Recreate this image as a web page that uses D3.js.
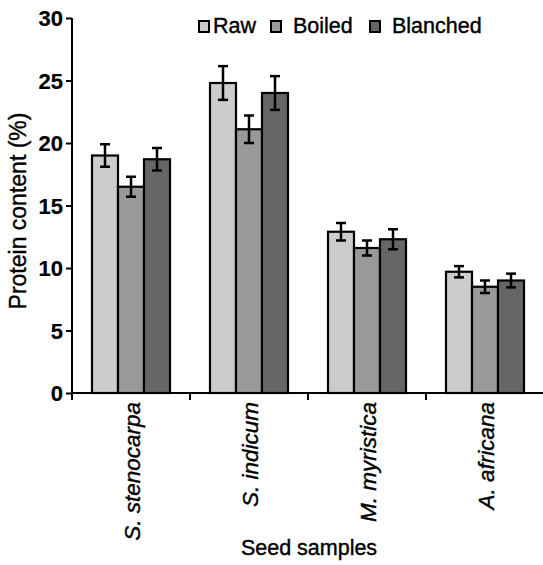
<!DOCTYPE html>
<html><head><meta charset="utf-8">
<script src="https://cdn.jsdelivr.net/npm/d3@7"></script>
<style>
body{margin:0;background:#fff;}
text{font-family:"Liberation Sans",Arial,sans-serif;fill:#000;stroke:#000;stroke-width:0.4px;}
</style></head>
<body>
<svg id="chart" width="543" height="565"></svg>
<script>
const categories = ["S. stenocarpa", "S. indicum", "M. myristica", "A. africana"];
const seriesNames = ["Raw", "Boiled", "Blanched"];
const seriesColors = ["#cccccc", "#999999", "#666666"];
const rawValues = [19.0, 24.8, 12.9, 9.7];
const boiledValues = [16.5, 21.1, 11.6, 8.5];
const blanchedValues = [18.7, 24.0, 12.3, 9.0];
const rawErrors = [0.9, 1.35, 0.7, 0.45];
const boiledErrors = [0.8, 1.1, 0.6, 0.5];
const blanchedErrors = [0.9, 1.35, 0.8, 0.55];
const yTicks = [0, 5, 10, 15, 20, 25, 30];

const values = [rawValues, boiledValues, blanchedValues];
const errors = [rawErrors, boiledErrors, blanchedErrors];

const svg = d3.select("#chart");
const mLeft = 72, mRight = 544, mTop = 18, mBottom = 393;

const y = d3.scaleLinear().domain([0, 30]).range([mBottom, mTop]);
const x = d3.scaleBand().domain(categories).range([mLeft, mRight]);
const groupW = 78;
const xs = d3.scaleBand().domain(seriesNames).range([0, groupW]);

const data = [];
categories.forEach((c, i) => seriesNames.forEach((s, j) => {
  data.push({c, s, j, v: values[j][i], e: errors[j][i]});
}));

const g = svg.append("g");
g.selectAll("rect.bar").data(data).enter().append("rect")
  .attr("x", d => x(d.c) + (x.bandwidth() - groupW) / 2 + xs(d.s))
  .attr("y", d => y(d.v))
  .attr("width", xs.bandwidth())
  .attr("height", d => y(0) - y(d.v))
  .attr("fill", d => seriesColors[d.j])
  .attr("stroke", "#000").attr("stroke-width", 2.2);

const eg = g.selectAll("g.err").data(data).enter().append("g")
  .attr("transform", d => `translate(${x(d.c) + (x.bandwidth() - groupW) / 2 + xs(d.s) + xs.bandwidth() / 2},0)`);
eg.append("line").attr("x1", 0).attr("x2", 0)
  .attr("y1", d => y(d.v - d.e)).attr("y2", d => y(d.v + d.e))
  .attr("stroke", "#000").attr("stroke-width", 2.5);
eg.append("line").attr("x1", -5).attr("x2", 5)
  .attr("y1", d => y(d.v + d.e)).attr("y2", d => y(d.v + d.e))
  .attr("stroke", "#000").attr("stroke-width", 2.5);
eg.append("line").attr("x1", -5).attr("x2", 5)
  .attr("y1", d => y(d.v - d.e)).attr("y2", d => y(d.v - d.e))
  .attr("stroke", "#000").attr("stroke-width", 2.5);

const yAxis = svg.append("g").attr("transform", `translate(${mLeft},0)`)
  .call(d3.axisLeft(y).tickValues(yTicks).tickSize(6).tickPadding(3).tickFormat(d3.format("d")));
yAxis.select(".domain").attr("d", `M0,${mTop}V${mBottom + 7}`).attr("stroke", "#000").attr("stroke-width", 2);
yAxis.selectAll(".tick line").attr("stroke", "#000").attr("stroke-width", 2);
yAxis.selectAll(".tick text").attr("font-size", 22).attr("font-family", "Liberation Sans, Arial, sans-serif")
  .attr("font-weight", "bold").attr("dy", "0.36em").style("stroke-width", "0.2px");

const xAxis = svg.append("g").attr("transform", `translate(0,${mBottom})`);
xAxis.append("line").attr("x1", mLeft).attr("x2", mRight).attr("y1", 0).attr("y2", 0)
  .attr("stroke", "#000").attr("stroke-width", 2);
xAxis.selectAll("line.tk").data(categories.slice(1)).enter().append("line")
  .attr("x1", d => x(d)).attr("x2", d => x(d)).attr("y1", 0).attr("y2", 7)
  .attr("stroke", "#000").attr("stroke-width", 2);
xAxis.selectAll("text.cat").data(categories).enter().append("text")
  .attr("transform", d => `translate(${x(d) + x.bandwidth() / 2 + 9},9) rotate(-90)`)
  .attr("text-anchor", "end").attr("font-size", 22.5).attr("font-style", "italic")
  .text(d => d);

svg.append("text").attr("transform", `translate(26,211) rotate(-90)`)
  .attr("text-anchor", "middle").attr("font-size", 23).text("Protein content (%)");
svg.append("text").attr("x", 309).attr("y", 555)
  .attr("text-anchor", "middle").attr("font-size", 21.5).text("Seed samples");

const legendBoxX = [198, 270, 369];
const legendTextX = [213, 293, 392];
const lg = svg.selectAll("g.leg").data(seriesNames).enter().append("g");
lg.append("rect").attr("x", (d, i) => legendBoxX[i] + 1).attr("y", 21).attr("width", 10).attr("height", 11)
  .attr("fill", (d, i) => seriesColors[i]).attr("stroke", "#000").attr("stroke-width", 2);
lg.append("text").attr("x", (d, i) => legendTextX[i]).attr("y", 33).attr("font-size", 21.5).text(d => d);
</script>
</body></html>
